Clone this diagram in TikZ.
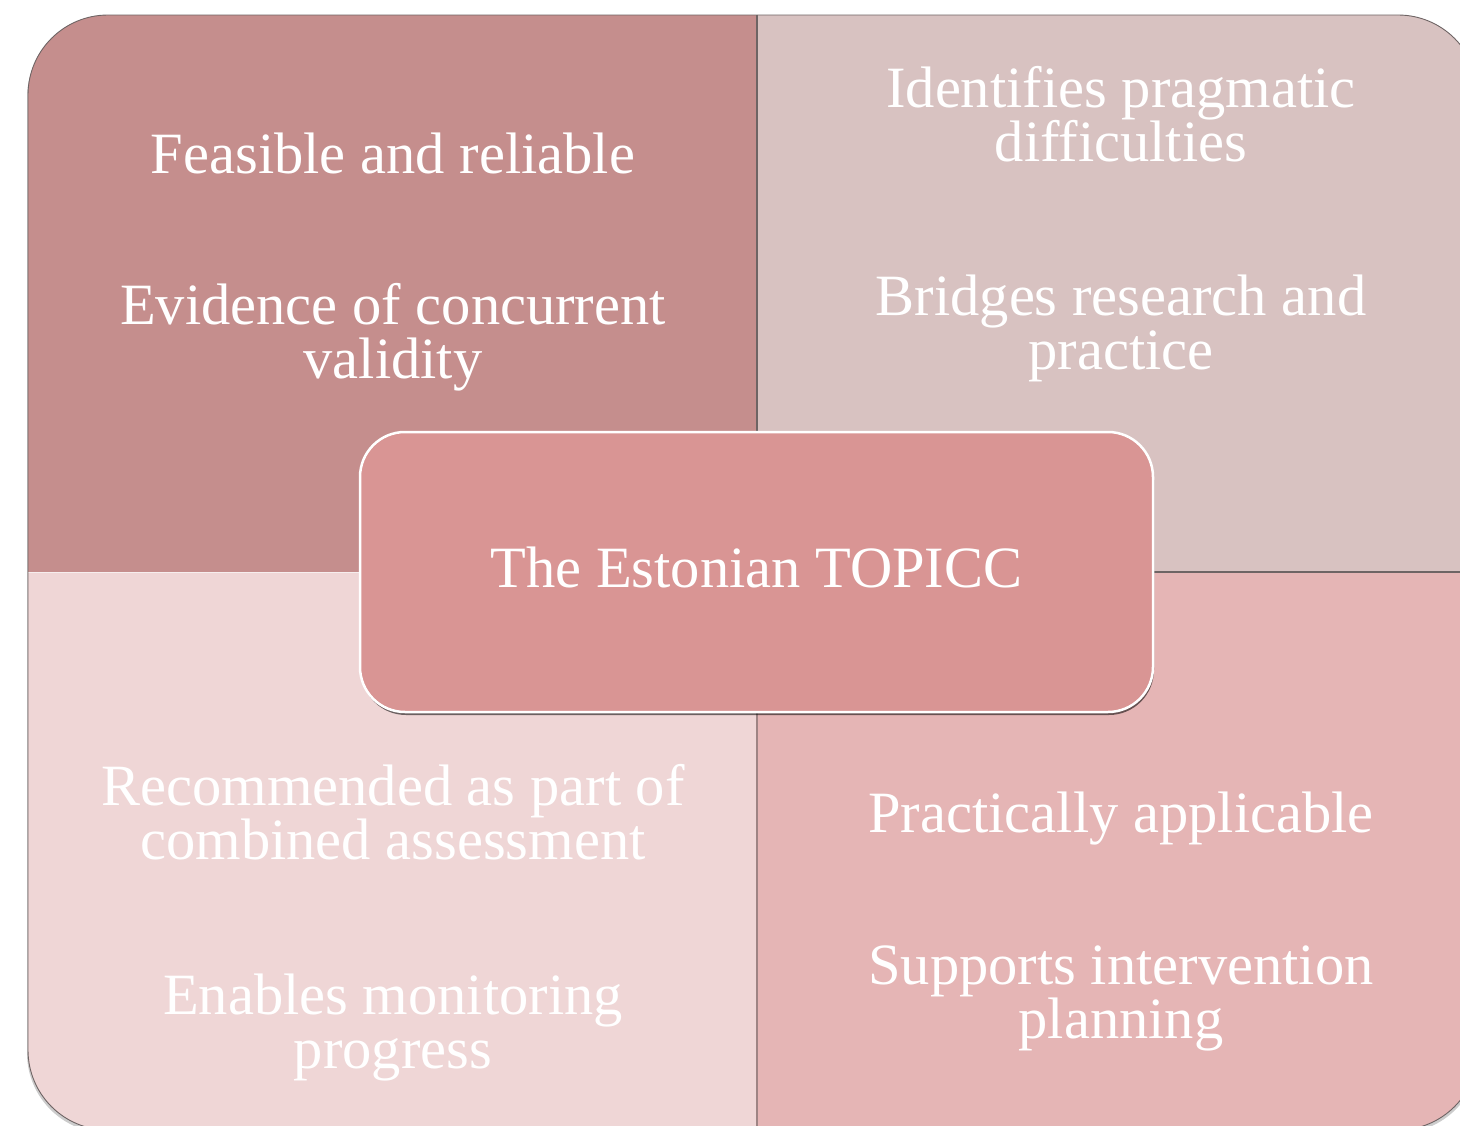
\documentclass[tikz,border=0pt]{standalone}
\usepackage{fontspec}
\setmainfont{Liberation Serif}
\usetikzlibrary{shadows}
\definecolor{qtl}{HTML}{C58E8D}
\definecolor{qtr}{HTML}{D8C2C1}
\definecolor{qbl}{HTML}{EFD6D6}
\definecolor{qbr}{HTML}{E5B5B5}
\definecolor{qc}{HTML}{D99594}
\definecolor{edge}{HTML}{6E6464}
\begin{document}
\begin{tikzpicture}[x=1pt,y=-1pt,
  txt/.style={text=white, font=\fontsize{58.5}{54}\selectfont, align=center, anchor=base, inner sep=0pt},
  quad/.style={rounded corners=80pt}]
\useasboundingbox (0,0) rectangle (1460,1126);
% outer shadow
\fill[black, opacity=0.2, quad] (27,18) rectangle (1479,1133);
\begin{scope}
  \clip[quad] (28,15) rectangle (1478,1130);
  \fill[qtl] (28,15) rectangle (756,572);
  \fill[qtr] (756,15) rectangle (1478,572);
  \fill[qbl] (28,572) rectangle (756,1130);
  \fill[qbr] (756,572) rectangle (1478,1130);
  \draw[edge, line width=1.6pt] (757,15) -- (757,572);
  \draw[edge!60!qbr, line width=1.2pt] (757,572) -- (757,1130);
  \draw[edge, line width=1.6pt] (756,572) -- (1478,572);
  \draw[white!85!qtl, line width=1pt] (28,572) -- (756,572);
\end{scope}
\draw[edge, line width=0.9pt, quad] (28,15) rectangle (1478,1130);
% texts
\node[txt] (tl1) at (393,174) {Feasible and reliable};
\node[txt] (tl2) at (393,378) {Evidence of concurrent\\validity};
\node[txt] (tr1) at (1121,162) {Identifies pragmatic\\difficulties};
\node[txt] (tr2) at (1121,369) {Bridges research and\\practice};
\node[txt] (bl1) at (393,859) {Recommended as part of\\combined assessment};
\node[txt] (bl2) at (393,1068) {Enables monitoring\\progress};
\node[txt] (br1) at (1121,832) {Practically applicable};
\node[txt] (br2) at (1121,1038) {Supports intervention\\planning};
% centre
\node[fill=qc, draw=white, line width=2.5pt, rounded corners=45pt,
  minimum width=793pt, minimum height=280pt, inner sep=0pt,
  text=white, font=\fontsize{58.5}{54}\selectfont, text height=30pt, text depth=0pt,
  drop shadow={shadow xshift=1pt, shadow yshift=-3pt, opacity=0.55, fill=black}]
  (c) at (756.5,572) {The Estonian TOPICC};
\end{tikzpicture}
\end{document}
